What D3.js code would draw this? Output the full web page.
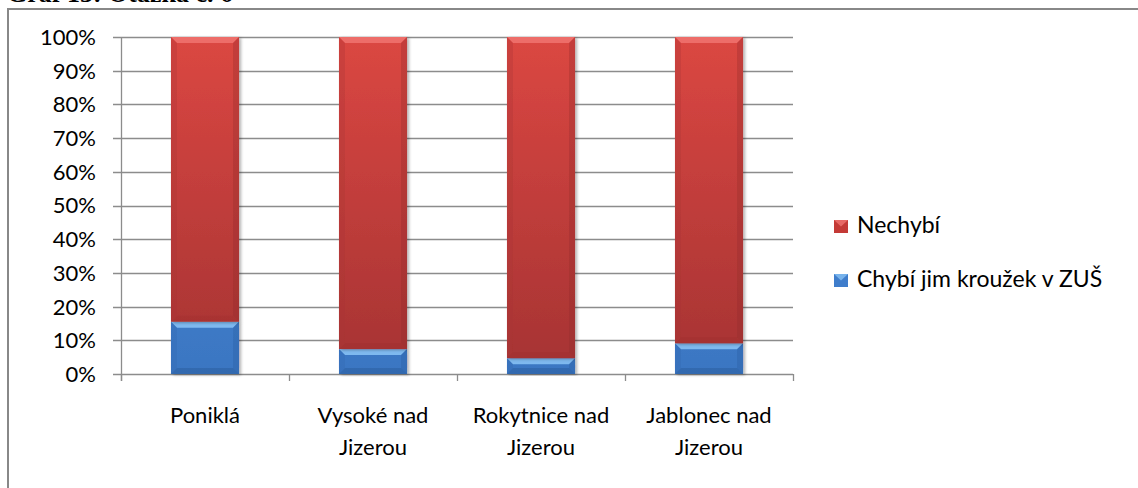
<!DOCTYPE html>
<html><head><meta charset="utf-8">
<script src="https://cdn.jsdelivr.net/npm/d3@7/dist/d3.min.js"></script>
<style>
html,body{margin:0;padding:0;background:#fff;overflow:hidden}
svg{display:block}
text{font-family:Lato,"Open Sans",sans-serif;fill:#000}
</style></head>
<body><svg id="c" width="1138" height="488"></svg>
<script>
const categories = [["Poniklá"],["Vysoké nad","Jizerou"],["Rokytnice nad","Jizerou"],["Jablonec nad","Jizerou"]];
const seriesNames = ["Chybí jim kroužek v ZUŠ","Nechybí"];
const chybi = [15.5, 7.4, 4.7, 9.1];
const nechybi = [84.5, 92.6, 95.3, 90.9];
const yTicks = [0,10,20,30,40,50,60,70,80,90,100];
const title = "Graf 13: Otázka č. 6";

const svg = d3.select("#c");
const defs = svg.append("defs");
const L = 121, R = 793, T = 37, B = 374;

const x = d3.scaleBand().domain(d3.range(categories.length)).range([L,R]).paddingInner(0.595).paddingOuter(0.2975);
const y = d3.scaleLinear().domain([0,100]).range([B,T]);

const rg = defs.append("linearGradient").attr("id","rg").attr("gradientUnits","userSpaceOnUse")
  .attr("x1",0).attr("x2",0).attr("y1",T).attr("y2",B);
rg.append("stop").attr("offset",0).attr("stop-color","#DB4742");
rg.append("stop").attr("offset",1).attr("stop-color","#A53333");
const bg = defs.append("linearGradient").attr("id","bg").attr("gradientUnits","userSpaceOnUse")
  .attr("x1",0).attr("x2",0).attr("y1",T).attr("y2",B);
bg.append("stop").attr("offset",0).attr("stop-color","#4F8EDA");
bg.append("stop").attr("offset",1).attr("stop-color","#3A76C2");
const sh = defs.append("filter").attr("id","sh").attr("x","-20%").attr("y","-5%").attr("width","140%").attr("height","115%");
sh.append("feDropShadow").attr("dx",2).attr("dy",1).attr("stdDeviation",1.5).attr("flood-color","#000").attr("flood-opacity",0.3);

svg.append("line").attr("x1",8).attr("x2",8).attr("y1",8).attr("y2",488).attr("stroke","#888").attr("stroke-width",2);
svg.append("line").attr("x1",7).attr("x2",1138).attr("y1",9).attr("y2",9).attr("stroke","#888").attr("stroke-width",2);
svg.append("text").attr("x",7).attr("y",2).text(title)
  .style("font-family","'Liberation Serif',serif").style("font-weight","bold").style("font-size","26px");

svg.append("g").selectAll("line").data(yTicks).join("line")
  .attr("x1",113).attr("x2",R).attr("y1",d=>Math.round(y(d))+0.5).attr("y2",d=>Math.round(y(d))+0.5)
  .attr("stroke","#8c8c8c").attr("stroke-width",1.3);
svg.append("line").attr("x1",L+0.5).attr("x2",L+0.5).attr("y1",T).attr("y2",B+7).attr("stroke","#8c8c8c").attr("stroke-width",1.3);
const xt = d3.range(categories.length+1).map(i=>L+(R-L)*i/categories.length);
svg.append("g").selectAll("line").data(xt).join("line")
  .attr("x1",d=>Math.round(d)+0.5).attr("x2",d=>Math.round(d)+0.5).attr("y1",B).attr("y2",B+7)
  .attr("stroke","#8c8c8c").attr("stroke-width",1.3);

svg.append("g").selectAll("text").data(yTicks).join("text")
  .attr("x",96).attr("y",d=>y(d)).attr("dy","0.36em").attr("text-anchor","end")
  .style("font-size","22px").text(d=>d+"%");

const stacks = [
  {vals:chybi, base:chybi.map(()=>0), fill:"url(#bg)", light:"#86C0F4", lightOp:0.9, dark:"#2A5A9A", darkOp:0.45, side:"#3568AE"},
  {vals:nechybi, base:chybi, fill:"url(#rg)", light:"#F07470", lightOp:0.85, dark:"#8E2A2A", darkOp:0.15, side:"#A83434"}
];
const bev = 6;
stacks.forEach(s=>{
  const g = svg.append("g");
  s.vals.forEach((v,i)=>{
    const x0 = x(i), w = x.bandwidth();
    const y0 = y(s.base[i]+v), y1 = y(s.base[i]);
    const h = y1-y0;
    const b = Math.min(bev, h/2.5);
    const gg = g.append("g").attr("filter","url(#sh)");
    gg.append("rect").attr("x",x0).attr("y",y0).attr("width",w).attr("height",h).attr("fill",s.fill);
    gg.append("path").attr("d",`M${x0},${y0}L${x0+w},${y0}L${x0+w-b},${y0+b}L${x0+b},${y0+b}Z`).attr("fill",s.light).attr("opacity",s.lightOp);
    gg.append("path").attr("d",`M${x0},${y1}L${x0+w},${y1}L${x0+w-b},${y1-b}L${x0+b},${y1-b}Z`).attr("fill",s.dark).attr("opacity",s.darkOp);
    gg.append("path").attr("d",`M${x0},${y0}L${x0+b},${y0+b}L${x0+b},${y1-b}L${x0},${y1}Z`).attr("fill",s.side).attr("opacity",0.3);
    gg.append("path").attr("d",`M${x0+w},${y0}L${x0+w-b},${y0+b}L${x0+w-b},${y1-b}L${x0+w},${y1}Z`).attr("fill",s.dark).attr("opacity",0.3);
  });
});

const cl = svg.append("g").selectAll("text").data(categories).join("text")
  .attr("x",(d,i)=>x(i)+x.bandwidth()/2).attr("y",423).attr("text-anchor","middle").style("font-size","22px");
cl.selectAll("tspan").data(d=>d).join("tspan")
  .attr("x",function(){return this.parentNode.getAttribute("x");})
  .attr("dy",(d,j)=>j?32:0).text(d=>d);

const leg = [{name:seriesNames[1], light:"#F07470", fill:"#C43A36", y:233},{name:seriesNames[0], light:"#86C0F4", fill:"#3F7DCB", y:287}];
const lg = svg.append("g").selectAll("g").data(leg).join("g");
lg.append("rect").attr("x",834).attr("y",d=>d.y-13).attr("width",14).attr("height",13).attr("fill",d=>d.fill);
lg.append("path").attr("d",d=>`M834,${d.y-13}L848,${d.y-13}L841,${d.y-6.5}Z`).attr("fill",d=>d.light).attr("opacity",0.8);
lg.append("text").attr("x",857).attr("y",d=>d.y).style("font-size","23px").text(d=>d.name);
</script></body></html>
